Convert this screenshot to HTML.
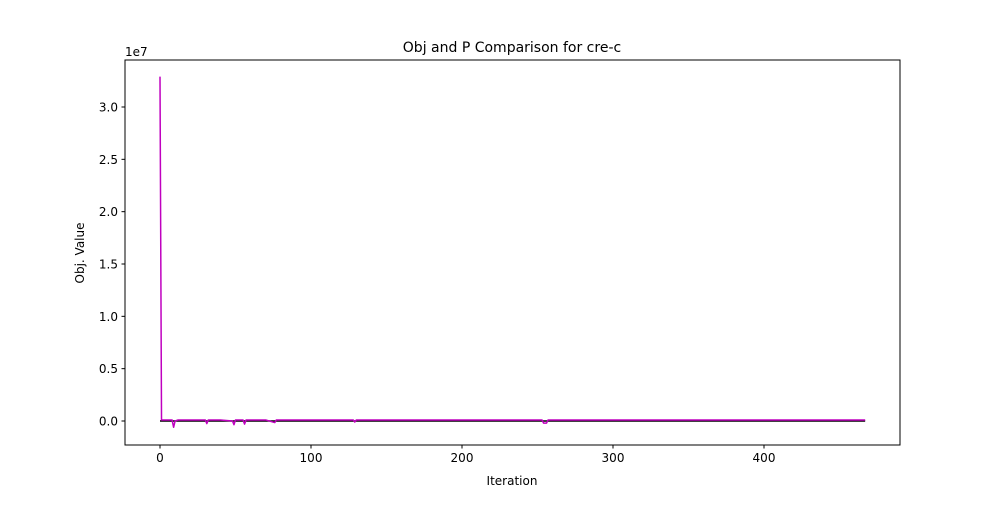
<!DOCTYPE html>
<html><head><meta charset="utf-8"><style>
body{margin:0;background:#fff;}
svg text{font-family:"DejaVu Sans","Liberation Sans",sans-serif;fill:#000;}
</style></head><body>
<svg width="1000" height="500">
<rect x="0" y="0" width="1000" height="500" fill="#fff"/>
<g id="plot"></g>
<rect x="125" y="60" width="775" height="385" fill="none" stroke="#000" stroke-width="1"/>
<text x="512" y="52" font-size="14" text-anchor="middle">Obj and P Comparison for cre-c</text>
<text x="512" y="485" font-size="12" text-anchor="middle">Iteration</text>
<text transform="translate(84,253) rotate(-90)" font-size="12" text-anchor="middle">Obj. Value</text>
<text x="125" y="56" font-size="12">1e7</text>
<g id="axes"></g>
</svg>
<script>
const xTicks=[0,100,200,300,400];
const yTicks=[0,0.5,1.0,1.5,2.0,2.5,3.0];
const objIter=[0,1,5,8,9,10,12,20,30,31,32,40,48,49,50,55,56,57,70,76,77,100,128,129,130,200,253,254,255,256,257,300,400,467];
const objVals=[3.29,0.01,0.01,0.01,-0.06,0.0,0.01,0.01,0.01,-0.025,0.01,0.01,0.0,-0.035,0.01,0.01,-0.03,0.01,0.01,-0.015,0.01,0.01,0.01,-0.01,0.01,0.01,0.01,-0.02,-0.02,-0.02,0.01,0.01,0.01,0.01];
const pIter=[0,467];
const pVals=[0,0];
const X=v=>160+v*(764-160)/400;
const Y=v=>421-v*(421-107)/3;
const NS="http://www.w3.org/2000/svg";
const ax=document.getElementById('axes'),pl=document.getElementById('plot');
function mk(t,a,p){const e=document.createElementNS(NS,t);for(const k in a)e.setAttribute(k,a[k]);p.appendChild(e);return e;}
xTicks.forEach(t=>{
 const l=mk('line',{x1:X(t),x2:X(t),y1:445,y2:448.5,stroke:'#000'},ax);
 
 
 const s=mk('text',{x:X(t),y:462,'font-size':12,'text-anchor':'middle'},ax);s.textContent=t;
 
 
});
yTicks.forEach(t=>{
 const l=mk('line',{x1:121.5,x2:125,y1:Y(t),y2:Y(t),stroke:'#000'},ax);
 
 
 const s=mk('text',{x:118,y:Y(t)+4.5,'font-size':12,'text-anchor':'end'},ax);s.textContent=t.toFixed(1);
 
 
});
const p=mk('polyline',{points:pIter.map((v,i)=>X(v)+','+Y(pVals[i])).join(' '),fill:'none',stroke:'#000','stroke-width':1.5},pl);


const o=mk('polyline',{points:objIter.map((v,i)=>X(v)+','+Y(objVals[i])).join(' '),fill:'none',stroke:'#bf00bf','stroke-width':1.5,'stroke-linejoin':'round'},pl);


</script>
</body></html>
